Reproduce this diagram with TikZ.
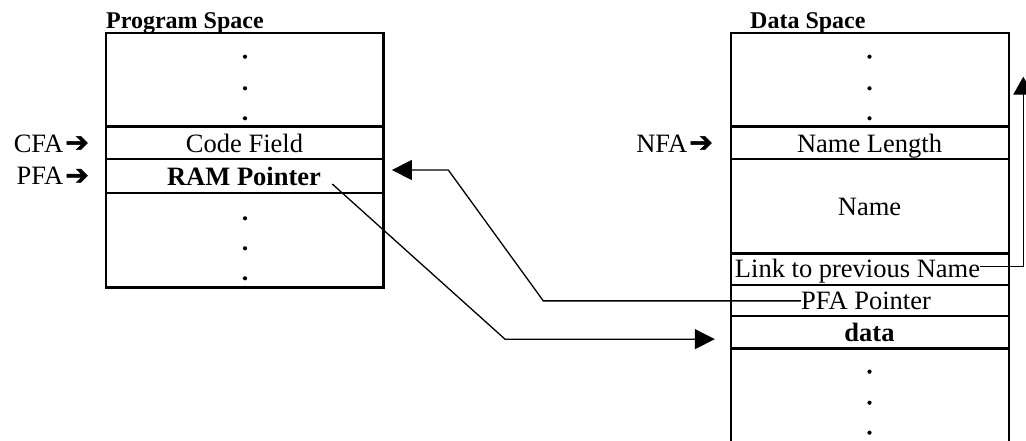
\documentclass[tikz,border=0pt]{standalone}
\usepackage{fontspec}
\setmainfont{Liberation Serif}
\newfontfamily\arrowfont[FakeBold=2]{DejaVu Sans}
\usetikzlibrary{arrows.meta}
\newcommand{\rarr}{\hspace{2pt}{\arrowfont\fontsize{28}{30}\selectfont\raisebox{0.5pt}{➔}}}
\begin{document}
\begin{tikzpicture}[x=1pt,y=-1pt,
  cell/.style={draw,line width=2.4pt,inner sep=0pt,minimum width=#1},
  txt/.style={inner sep=0pt,anchor=base,font=\fontsize{26.5}{30}\selectfont},
  lbl/.style={inner sep=0pt,anchor=base east,font=\fontsize{26.5}{30}\selectfont},
  ttl/.style={inner sep=0pt,anchor=base west,font=\bfseries\fontsize{24}{28}\selectfont},
  conn/.style={line width=1.3pt},
  tip/.style={-{Triangle[length=20pt,width=20pt]}},
  dot/.style={fill=black}]
\useasboundingbox (0,0) rectangle (1026,441);
\clip (0,0) rectangle (1026,441);

% titles
\node[ttl] (pst) at (106,28.3) {Program Space};
\node[ttl] (dst) at (750,28.3) {Data Space};

% program space cells
\node[cell=277.5pt,minimum height=93.4pt] (ltop) at (244.75,80) {};
\node[cell=277.5pt,minimum height=32.3pt] (cf) at (244.75,142.85) {};
\node[cell=277.5pt,minimum height=34.3pt] (ram) at (244.75,176.15) {};
\node[cell=277.5pt,minimum height=94pt] (lbot) at (244.75,240.3) {};

% data space cells
\node[cell=278pt,minimum height=93.4pt] (rtop) at (870,80) {};
\node[cell=278pt,minimum height=32.3pt] (nl) at (870,142.85) {};
\node[cell=278pt,minimum height=94.3pt] (nm) at (870,206.15) {};
\node[cell=278pt,minimum height=31.7pt] (lk) at (870,269.15) {};
\node[cell=278pt,minimum height=31pt] (pf) at (870,300.5) {};
\node[cell=278pt,minimum height=32.3pt] (dat) at (870,332.15) {};
\node[cell=278pt,minimum height=121.7pt] (rbot) at (870,409.15) {};

% cell texts
\node[txt] (cft) at (244.5,153) {Code Field};
\node[txt,font=\bfseries\fontsize{26.5}{30}\selectfont] (ramt) at (244,185.5) {RAM Pointer};
\node[txt] (nlt) at (869.5,152.5) {Name Length};
\node[txt] (nmt) at (869.5,215) {Name};
\node[txt] (lkt) at (857.5,277) {Link to previous Name};
\node[txt] (pft) at (866,309.5) {PFA Pointer};
\node[txt,font=\bfseries\fontsize{26.5}{30}\selectfont] (datt) at (869.5,341.5) {data};

% address labels
\node[lbl] (cfa) at (89,152.3) {CFA\rarr};
\node[lbl] (pfa) at (89,185) {PFA\rarr};
\node[lbl] (nfa) at (713,152.3) {NFA\rarr};

% dots
\foreach \y in {56.7,88.3,118.3,218.3,248.3,278.3}
  \fill[dot] (245,\y) circle[radius=2.1pt];
\foreach \y in {56.7,88.3,118.3,371.7,402.7,432.7}
  \fill[dot] (869.5,\y) circle[radius=2.1pt];

% connectors
\coordinate (b1) at (543.3,0);
\draw[conn,tip] (pft.west) -- (pft.west -| b1) -- (448.3,170) -- ([shift={(7.2,-6.15)}]ram.east);
\draw[conn,tip] ([shift={(87.5,7.85)}]ram.center) -- (505,339.15) -- ([shift={(-15,7)}]dat.west);
\coordinate (up) at (1023.3,76.7);
\draw[conn,-{Triangle[length=18pt,width=20pt]}] ([yshift=4pt]lkt.east) -| (up);
\end{tikzpicture}
\end{document}
